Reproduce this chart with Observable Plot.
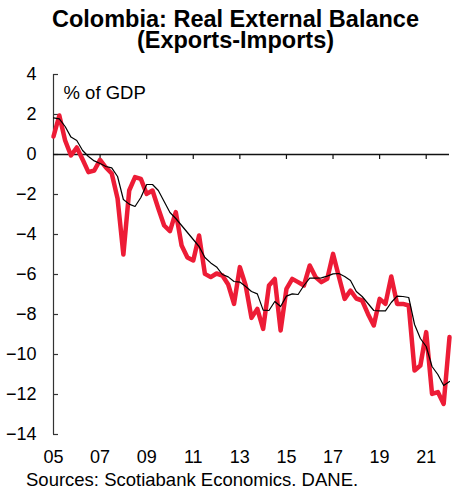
<!DOCTYPE html>
<html>
<head>
<meta charset="utf-8">
<script src="https://cdn.jsdelivr.net/npm/d3@7"></script>
<script src="https://cdn.jsdelivr.net/npm/@observablehq/plot@0.6"></script>
<style>
  body { margin: 0; background: #fff; font-family: "Liberation Sans", Arial, sans-serif; color: #000; }
  #wrap { position: relative; width: 471px; height: 490px; overflow: hidden; }
  .title { position: absolute; left: 0; width: 471px; height: 21px; text-align: center;
           font-weight: bold; font-size: 23.5px; line-height: 21px; white-space: nowrap; }
  #title1 { top: 9px; }
  #title2 { top: 30px; }
  #chart { position: absolute; left: 0; top: 60px; }
  #source { position: absolute; left: 26px; top: 471px; height: 18px; font-size: 18.5px; line-height: 18px; white-space: nowrap; }
</style>
</head>
<body>
<div id="wrap">
  <div class="title" id="title1">Colombia: Real External Balance</div>
  <div class="title" id="title2">(Exports-Imports)</div>
  <div id="chart"></div>
  <div id="source">Sources: Scotiabank Economics. DANE.</div>
</div>
<script>
// Quarterly series, first observation 2005 Q1
const firstYear = 2005;

// Real external balance, % of GDP
const balance = [
  0.9, 1.95, 0.7, -0.05, 0.35, -0.25, -0.88, -0.8,
  -0.27, -0.65, -0.95, -2.2, -5.0, -1.8, -1.13, -1.22,
  -1.97, -1.8, -2.7, -3.55, -3.83, -2.88, -4.55, -5.15,
  -5.3, -4.05, -5.97, -6.13, -5.95, -6.05, -6.5, -7.47,
  -5.63, -6.55, -8.17, -7.72, -8.72, -6.55, -6.22, -8.8,
  -6.72, -6.22, -6.38, -6.55, -5.55, -6.13, -6.38, -6.22,
  -4.97, -6.1, -7.22, -6.8, -7.2, -7.3, -7.97, -8.55,
  -7.22, -7.47, -6.1, -7.47, -7.47, -7.55, -10.8, -10.55,
  -8.88, -11.97, -11.88, -12.47, -9.13
];

// Four-quarter moving average
const trend = [
  1.83, 1.78, 1.4, 0.87, 0.7, 0.2, -0.1, -0.32,
  -0.45, -0.6, -0.67, -1.1, -2.25, -2.48, -2.6, -2.15,
  -1.5, -1.5, -1.8, -2.35, -2.9, -3.2, -3.55, -3.9,
  -4.25, -4.6, -5.15, -5.42, -5.62, -6.0, -6.12, -6.35,
  -6.38, -6.6, -6.85, -6.97, -7.78, -7.8, -7.35, -7.6,
  -7.08, -6.97, -7.0, -6.55, -6.18, -6.18, -6.17, -6.08,
  -5.97, -5.95, -6.1, -6.3, -6.85, -7.1, -7.45, -7.8,
  -7.82, -7.82, -7.4, -7.08, -7.1, -7.15, -8.5, -9.2,
  -9.6, -10.6, -11.0, -11.55, -11.35
];

const yearTicks = [2005, 2007, 2009, 2011, 2013, 2015, 2017, 2019, 2021];
const yearLabels = ["05", "07", "09", "11", "13", "15", "17", "19", "21"];
const valueTicks = [4, 2, 0, -2, -4, -6, -8, -10, -12, -14];
const unitLabel = "% of GDP";

const rows = balance.map((v, i) => ({ t: firstYear + i / 4, balance: v, trend: trend[i] }));

const xDomain = [2005, 2022];
const yDomain = [-14, 4];

const chart = Plot.plot({
  width: 471,
  height: 411,
  marginTop: 14,
  marginBottom: 37,
  marginLeft: 53,
  marginRight: 22,
  style: { fontFamily: "'Liberation Sans', Arial, sans-serif", fontSize: "18px", color: "#000", background: "transparent", overflow: "visible" },
  x: { domain: xDomain },
  y: { domain: yDomain },
  marks: [
    // vertical axis line with inward ticks
    Plot.ruleX([xDomain[0]], { stroke: "#333", strokeWidth: 1.2 }),
    Plot.ruleY(valueTicks, { y: d => d, x1: xDomain[0], x2: xDomain[0], insetRight: -5, stroke: "#333", strokeWidth: 1.2 }),
    // zero line carrying the year ticks
    Plot.ruleY([0], { stroke: "#111", strokeWidth: 1.5 }),
    Plot.ruleX(yearTicks.slice(1), { x: d => d, y1: 0, y2: 0, insetBottom: -5, stroke: "#111", strokeWidth: 1.2 }),
    Plot.axisY({ ticks: valueTicks, tickSize: 0, tickPadding: 17, label: null, fontSize: 18 }),
    Plot.axisX({ ticks: yearTicks, tickSize: 0, tickPadding: 16, label: null, fontSize: 18,
                 tickFormat: d => yearLabels[yearTicks.indexOf(d)] }),
    Plot.text([unitLabel], { text: d => d, frameAnchor: "top-left", textAnchor: "start", lineAnchor: "top", dx: 10, dy: 11.5, fontSize: 18.5 }),
    Plot.line(rows, { x: "t", y: "balance", stroke: "#ED1C36", strokeWidth: 4.5 }),
    Plot.line(rows, { x: "t", y: "trend", stroke: "#000", strokeWidth: 1.2 })
  ]
});

document.getElementById("chart").appendChild(chart);
</script>
</body>
</html>
